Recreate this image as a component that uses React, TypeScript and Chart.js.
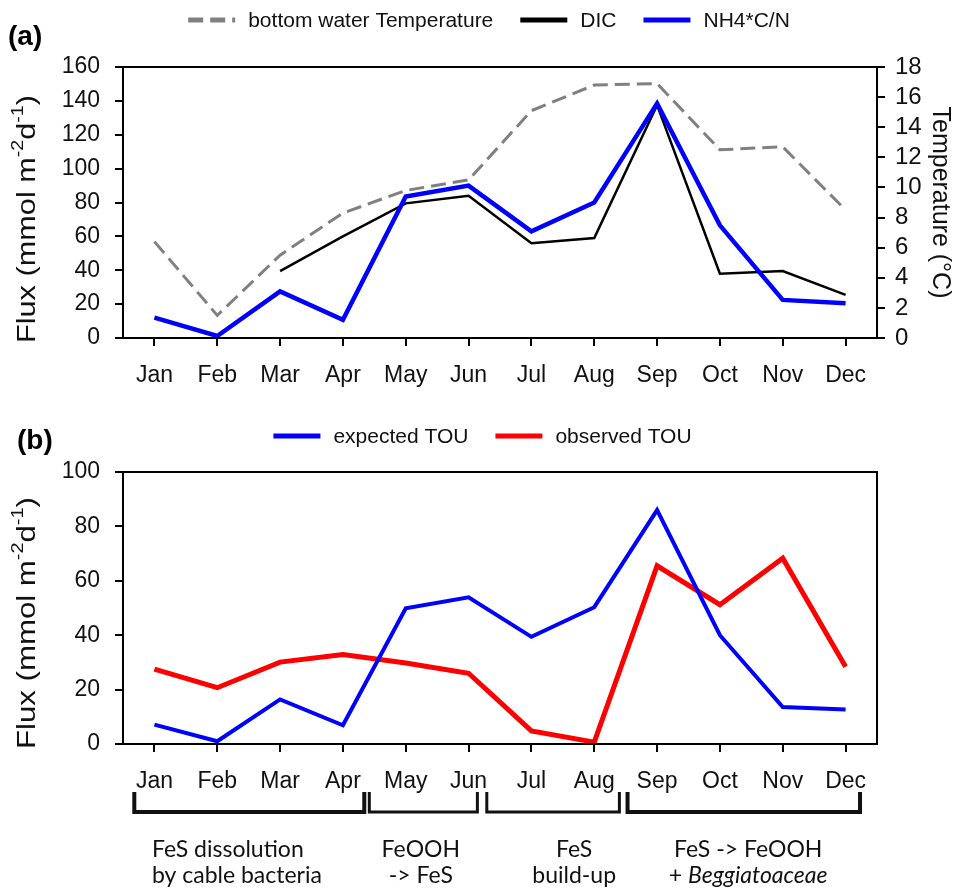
import React, { useEffect, useRef } from "react";
import { Chart, registerables } from "chart.js";

Chart.register(...registerables);

// ---------------- data ----------------
const months = ["Jan", "Feb", "Mar", "Apr", "May", "Jun", "Jul", "Aug", "Sep", "Oct", "Nov", "Dec"];

// panel (a)
const bottomWaterTemperature = [6.4, 1.5, 5.5, 8.3, 9.8, 10.5, 15.1, 16.8, 16.9, 12.5, 12.7, 8.5];
const dicFlux = [null, null, 39.5, 60, 79.5, 84, 56, 59, 137.5, 38, 39.5, 25.5];
const nh4CNFlux = [12, 1.2, 27.5, 10.8, 83.5, 90, 63, 80, 138.5, 66.5, 22.5, 20.5];
const fluxAxisA = { min: 0, max: 160, step: 20 };
const tempAxis = { min: 0, max: 18, step: 2 };

// panel (b)
const expectedTOU = [7.1, 1.0, 16.4, 6.9, 49.9, 53.9, 39.4, 50.3, 86, 40, 13.6, 12.7];
const observedTOU = [27.5, 20.7, 30.1, 32.9, 29.8, 26, 4.8, 0.7, 65.5, 51.2, 68.3, 28.4];
const fluxAxisB = { min: 0, max: 100, step: 20 };

// phases below panel (b): span in category index units
const phaseSpans = [
  [-0.32, 3.34],
  [3.42, 5.14],
  [5.29, 7.4],
  [7.53, 11.23],
];
const phaseLineWidths = [4, 3, 3, 4];
const phaseAnchors = [
  { at: -0.04, align: "left" },
  { at: 4.24, align: "center" },
  { at: 6.68, align: "center" },
  { at: 9.45, align: "center" },
];
const phaseNotes = [
  [[{ t: "FeS dissolution" }], [{ t: "by cable bacteria" }]],
  [[{ t: "FeOOH" }], [{ t: "-> FeS" }]],
  [[{ t: "FeS" }], [{ t: "build-up" }]],
  [[{ t: "FeS -> FeOOH" }], [{ t: "+ " }, { t: "Beggiatoaceae", italic: true }]],
];

// ---------------- styles ----------------
const FONT = "'Liberation Sans', Arial, Helvetica, sans-serif";
const NOTE_FONT = "Lato, 'Open Sans', sans-serif";

function drawLegend(ctx: CanvasRenderingContext2D, chart: any, cx: number, cy: number) {
  const items = chart.data.datasets.map((d: any) => ({
    label: d.label,
    color: d.borderColor,
    dash: d.borderDash || [],
  }));
  ctx.save();
  ctx.font = `21px ${FONT}`;
  const sample = 47, gapText = 13, gapItem = 27;
  const widths = items.map((it: any) => ctx.measureText(it.label).width);
  let total = 0;
  items.forEach((_: any, i: number) => {
    total += sample + gapText + widths[i];
    if (i < items.length - 1) total += gapItem;
  });
  let x = cx - total / 2;
  items.forEach((it: any, i: number) => {
    ctx.beginPath();
    ctx.setLineDash(it.dash);
    ctx.lineWidth = 5;
    ctx.lineCap = "butt";
    ctx.strokeStyle = it.color;
    ctx.moveTo(x, cy);
    ctx.lineTo(x + sample, cy);
    ctx.stroke();
    ctx.setLineDash([]);
    ctx.fillStyle = "#111";
    ctx.textBaseline = "middle";
    ctx.textAlign = "left";
    ctx.fillText(it.label, x + sample + gapText, cy + 1);
    x += sample + gapText + widths[i] + gapItem;
  });
  ctx.restore();
}

function drawFluxTitle(ctx: CanvasRenderingContext2D, baseX: number, startY: number, targetLen: number) {
  const segs: [string, boolean][] = [
    ["Flux (mmol m", false],
    ["-2", true],
    ["d", false],
    ["-1", true],
    [")", false],
  ];
  const mainF = `25px ${FONT}`;
  const supF = `16px ${FONT}`;
  ctx.save();
  let len = 0;
  const ws = segs.map(([t, s]) => {
    ctx.font = s ? supF : mainF;
    const w = ctx.measureText(t).width;
    len += w;
    return w;
  });
  ctx.translate(baseX, startY);
  ctx.rotate(-Math.PI / 2);
  ctx.scale(targetLen / len, 1);
  ctx.fillStyle = "#111";
  ctx.textBaseline = "alphabetic";
  ctx.textAlign = "left";
  let x = 0;
  segs.forEach(([t, s], i) => {
    ctx.font = s ? supF : mainF;
    ctx.fillText(t, x, s ? -12 : 0);
    x += ws[i];
  });
  ctx.restore();
}

function drawFrame(ctx: CanvasRenderingContext2D, chart: any) {
  const a = chart.chartArea;
  ctx.save();
  ctx.strokeStyle = "#000";
  ctx.lineWidth = 2;
  ctx.strokeRect(a.left, a.top, a.right - a.left, a.bottom - a.top);
  ctx.restore();
}

function drawPanelLabel(ctx: CanvasRenderingContext2D, text: string, x: number, y: number) {
  ctx.save();
  ctx.font = `bold 28px ${FONT}`;
  ctx.fillStyle = "#000";
  ctx.textBaseline = "alphabetic";
  ctx.textAlign = "left";
  ctx.fillText(text, x, y);
  ctx.restore();
}

const tickFont = { family: FONT, size: 23 };

function xScale(height: number) {
  return {
    type: "category",
    offset: true,
    grid: { display: true, drawOnChartArea: false, drawTicks: true, tickLength: 8, color: "#000", lineWidth: 2, offset: false },
    border: { display: true, color: "#000", width: 2 },
    ticks: { font: tickFont, color: "#111", padding: 16, maxRotation: 0, autoSkip: false },
    afterFit: (s: any) => { s.height = height; },
  };
}

function yScale(range: any, position: string, width: number, padding: number, fontSize: number, extra: any = {}) {
  return {
    position,
    min: range.min,
    max: range.max,
    grid: { display: true, drawOnChartArea: false, drawTicks: true, tickLength: 8, color: "#000", lineWidth: 2 },
    border: { display: true, color: "#000", width: 2 },
    ticks: { stepSize: range.step, font: { family: FONT, size: fontSize }, color: "#111", padding, autoSkip: false },
    afterFit: (s: any) => { s.width = width; },
    ...extra,
  };
}

function ChartA() {
  const ref = useRef<HTMLCanvasElement>(null);
  useEffect(() => {
    const chart = new Chart(ref.current!, {
      type: "line",
      data: {
        labels: months,
        datasets: [
          { label: "bottom water Temperature", data: bottomWaterTemperature, yAxisID: "yT", borderColor: "#808080", borderWidth: 3, borderDash: [15, 7], order: 2 },
          { label: "DIC", data: dicFlux, yAxisID: "y", borderColor: "#000000", borderWidth: 2.5, order: 1 },
          { label: "NH4*C/N", data: nh4CNFlux, yAxisID: "y", borderColor: "#0000ff", borderWidth: 4.5, order: 0 },
        ],
      },
      options: {
        animation: false,
        responsive: false,
        events: [],
        layout: { padding: { top: 67, left: 0, right: 0, bottom: 0 } },
        elements: { point: { radius: 0 }, line: { tension: 0, fill: false } },
        plugins: { legend: { display: false }, tooltip: { enabled: false } },
        scales: {
          x: xScale(62),
          y: yScale(fluxAxisA, "left", 123, 15, 23),
          yT: yScale(tempAxis, "right", 80, 10, 24, {
            title: { display: true, text: "Temperature (°C)", font: { family: FONT, size: 25 }, color: "#111", padding: { top: 2, bottom: 0 } },
          }),
        },
      } as any,
      plugins: [
        {
          id: "decorA",
          afterDraw(c: any) {
            const ctx = c.ctx;
            drawFrame(ctx, c);
            drawPanelLabel(ctx, "(a)", 8, 45);
            drawLegend(ctx, c, 489, 20);
            drawFluxTitle(ctx, 35, 343, 248);
          },
        },
      ],
    } as any);
    return () => chart.destroy();
  }, []);
  return <canvas ref={ref} width={957} height={400} style={{ position: "absolute", left: 0, top: 0 }} />;
}

function ChartB() {
  const ref = useRef<HTMLCanvasElement>(null);
  useEffect(() => {
    const chart = new Chart(ref.current!, {
      type: "line",
      data: {
        labels: months,
        datasets: [
          { label: "expected TOU", data: expectedTOU, borderColor: "#0000ff", borderWidth: 4, order: 0 },
          { label: "observed TOU", data: observedTOU, borderColor: "#ff0000", borderWidth: 5, order: 1 },
        ],
      },
      options: {
        animation: false,
        responsive: false,
        events: [],
        layout: { padding: { top: 72, left: 0, right: 80, bottom: 0 } },
        elements: { point: { radius: 0 }, line: { tension: 0, fill: false } },
        plugins: { legend: { display: false }, tooltip: { enabled: false } },
        scales: {
          x: xScale(145),
          y: yScale(fluxAxisB, "left", 123, 15, 23),
        },
      } as any,
      plugins: [
        {
          id: "decorB",
          afterDraw(c: any) {
            const ctx = c.ctx;
            drawFrame(ctx, c);
            drawPanelLabel(ctx, "(b)", 17, 49);
            drawLegend(ctx, c, 482.5, 36);
            drawFluxTitle(ctx, 35, 349, 252);
            const xs = c.scales.x;
            // brackets
            ctx.save();
            ctx.strokeStyle = "#111";
            ctx.lineJoin = "miter";
            ctx.lineCap = "butt";
            phaseSpans.forEach(([a, b], i) => {
              const x1 = xs.getPixelForValue(a);
              const x2 = xs.getPixelForValue(b);
              ctx.lineWidth = phaseLineWidths[i];
              ctx.beginPath();
              ctx.moveTo(x1, 392);
              ctx.lineTo(x1, 412);
              ctx.lineTo(x2, 412);
              ctx.lineTo(x2, 392);
              ctx.stroke();
            });
            // notes
            ctx.fillStyle = "#111";
            ctx.textBaseline = "alphabetic";
            ctx.textAlign = "left";
            const baselines = [457, 483];
            phaseNotes.forEach((lines, i) => {
              const anchorX = xs.getPixelForValue(phaseAnchors[i].at);
              lines.forEach((segs: any[], li: number) => {
                const fonts = segs.map((s) => `${s.italic ? "italic " : ""}23px ${NOTE_FONT}`);
                const widths = segs.map((s, k) => { ctx.font = fonts[k]; return ctx.measureText(s.t).width; });
                const total = widths.reduce((p, q) => p + q, 0);
                let x = phaseAnchors[i].align === "left" ? anchorX : anchorX - total / 2;
                segs.forEach((s, k) => {
                  ctx.font = fonts[k];
                  ctx.fillText(s.t, x, baselines[li]);
                  x += widths[k];
                });
              });
            });
            ctx.restore();
          },
        },
      ],
    } as any);
    return () => chart.destroy();
  }, []);
  return <canvas ref={ref} width={957} height={489} style={{ position: "absolute", left: 0, top: 400 }} />;
}

export default function App() {
  return (
    <div style={{ position: "absolute", left: 0, top: 0, width: 957, height: 889, background: "#fff" }}>
      <ChartA />
      <ChartB />
    </div>
  );
}
